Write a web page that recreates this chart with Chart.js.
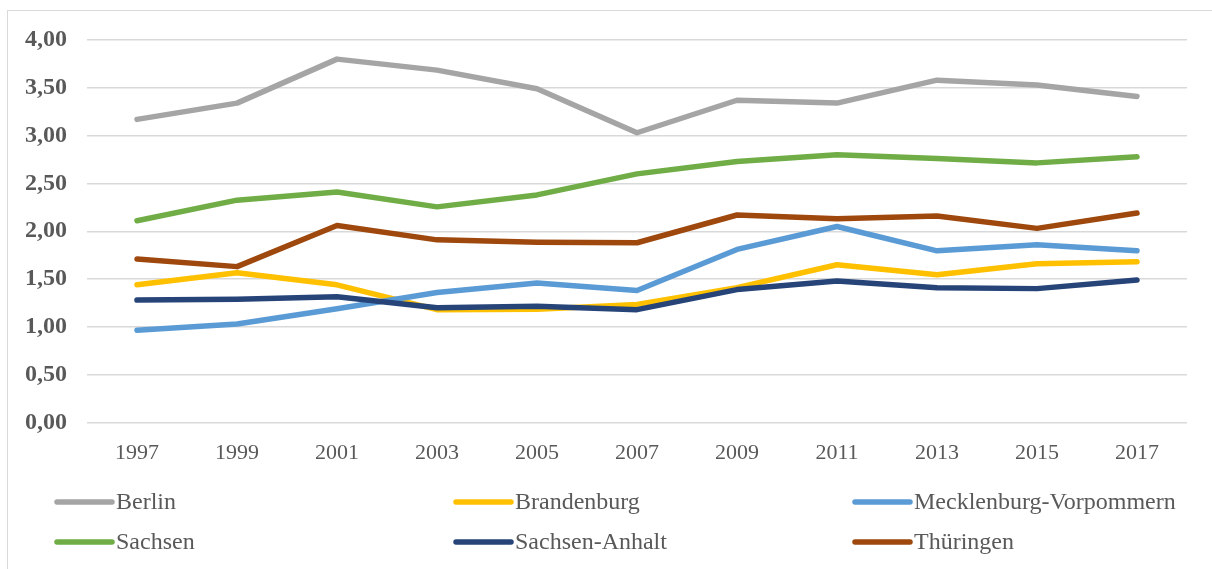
<!DOCTYPE html>
<html>
<head>
<meta charset="utf-8">
<script src="https://cdn.jsdelivr.net/npm/chart.js@4/dist/chart.umd.min.js"></script>
<style>
  html, body { margin: 0; padding: 0; background: #fff; }
  body { width: 1212px; height: 569px; overflow: hidden; position: relative; }
  #frame { position: absolute; left: 7px; top: 10px; width: 1220px; height: 580px; border: 1px solid #d9d9d9; box-sizing: border-box; }
  #wrap { position: absolute; left: 0; top: 0; width: 1212px; height: 569px; }
</style>
</head>
<body>
<div id="frame"></div>
<div id="wrap"><canvas id="c" width="1212" height="569"></canvas></div>
<script>
const years = ['1997','1999','2001','2003','2005','2007','2009','2011','2013','2015','2017'];
const seriesNames = ['Berlin','Brandenburg','Mecklenburg-Vorpommern','Sachsen','Sachsen-Anhalt','Thüringen'];
const berlin      = [3.17, 3.34, 3.80, 3.685, 3.49, 3.03, 3.37, 3.34, 3.58, 3.53, 3.41];
const brandenburg = [1.44, 1.565, 1.44, 1.18, 1.185, 1.235, 1.41, 1.65, 1.545, 1.66, 1.68];
const mecklenburg = [0.965, 1.03, 1.19, 1.36, 1.46, 1.38, 1.81, 2.05, 1.795, 1.86, 1.795];
const sachsen     = [2.11, 2.325, 2.41, 2.255, 2.38, 2.60, 2.73, 2.80, 2.76, 2.715, 2.78];
const sachsenAnh  = [1.28, 1.29, 1.315, 1.20, 1.215, 1.18, 1.39, 1.48, 1.41, 1.40, 1.49];
const thueringen  = [1.71, 1.63, 2.06, 1.91, 1.885, 1.88, 2.17, 2.13, 2.16, 2.03, 2.19];
const yTicks = [0, 0.5, 1, 1.5, 2, 2.5, 3, 3.5, 4];
const colors = ['#A5A5A5','#FFC000','#5B9BD5','#70AD47','#264478','#9E480E'];
const values = [berlin, brandenburg, mecklenburg, sachsen, sachsenAnh, thueringen];

// legend drawn on canvas in a 3-column grid (order as in reference)
const legendPlugin = {
  id: 'gridLegend',
  afterDraw(chart) {
    const ctx = chart.ctx;
    const colX = [57, 456, 855];
    const rowY = [502, 542];
    ctx.save();
    ctx.font = '24px "Liberation Serif", "Times New Roman", serif';
    ctx.textBaseline = 'middle';
    ctx.textAlign = 'left';
    chart.data.datasets.forEach((ds, i) => {
      const x = colX[i % 3], y = rowY[Math.floor(i / 3)];
      ctx.strokeStyle = ds.borderColor;
      ctx.lineWidth = 5.5;
      ctx.lineCap = 'round';
      ctx.beginPath();
      ctx.moveTo(x, y);
      ctx.lineTo(x + 55, y);
      ctx.stroke();
      ctx.fillStyle = '#595959';
      ctx.fillText(ds.label, x + 59, y + 1);
    });
    ctx.restore();
  }
};

new Chart(document.getElementById('c'), {
  type: 'line',
  data: {
    labels: years,
    datasets: seriesNames.map((n, i) => ({
      label: n,
      data: values[i],
      order: seriesNames.length - i,
      borderColor: colors[i],
      backgroundColor: colors[i],
      borderWidth: 5.5,
      pointRadius: 0,
      tension: 0,
      borderCapStyle: 'round',
      borderJoinStyle: 'round',
      fill: false
    }))
  },
  options: {
    responsive: false,
    animation: false,
    devicePixelRatio: 1,
    layout: { padding: { left: 0, right: 25, top: 40, bottom: 0 } },
    plugins: { legend: { display: false }, tooltip: { enabled: false } },
    scales: {
      x: {
        offset: true,
        grid: { display: false, drawTicks: false },
        border: { display: false },
        ticks: {
          color: '#595959',
          padding: 18,
          maxRotation: 0,
          font: { family: '"Liberation Serif", "Times New Roman", serif', size: 22 }
        },
        afterFit(s) { s.height = 569 - 422.5; }
      },
      y: {
        min: 0, max: 4,
        afterBuildTicks(s) { s.ticks = yTicks.map(v => ({ value: v })); },
        grid: { color: '#d9d9d9', lineWidth: 1.5, drawTicks: false },
        border: { display: false },
        ticks: {
          color: '#595959',
          padding: 20,
          font: { family: '"Liberation Serif", "Times New Roman", serif', size: 24, weight: 'bold' },
          callback: v => v.toFixed(2).replace('.', ',')
        },
        afterFit(s) { s.width = 87; }
      }
    }
  },
  plugins: [legendPlugin]
});
</script>
</body>
</html>
